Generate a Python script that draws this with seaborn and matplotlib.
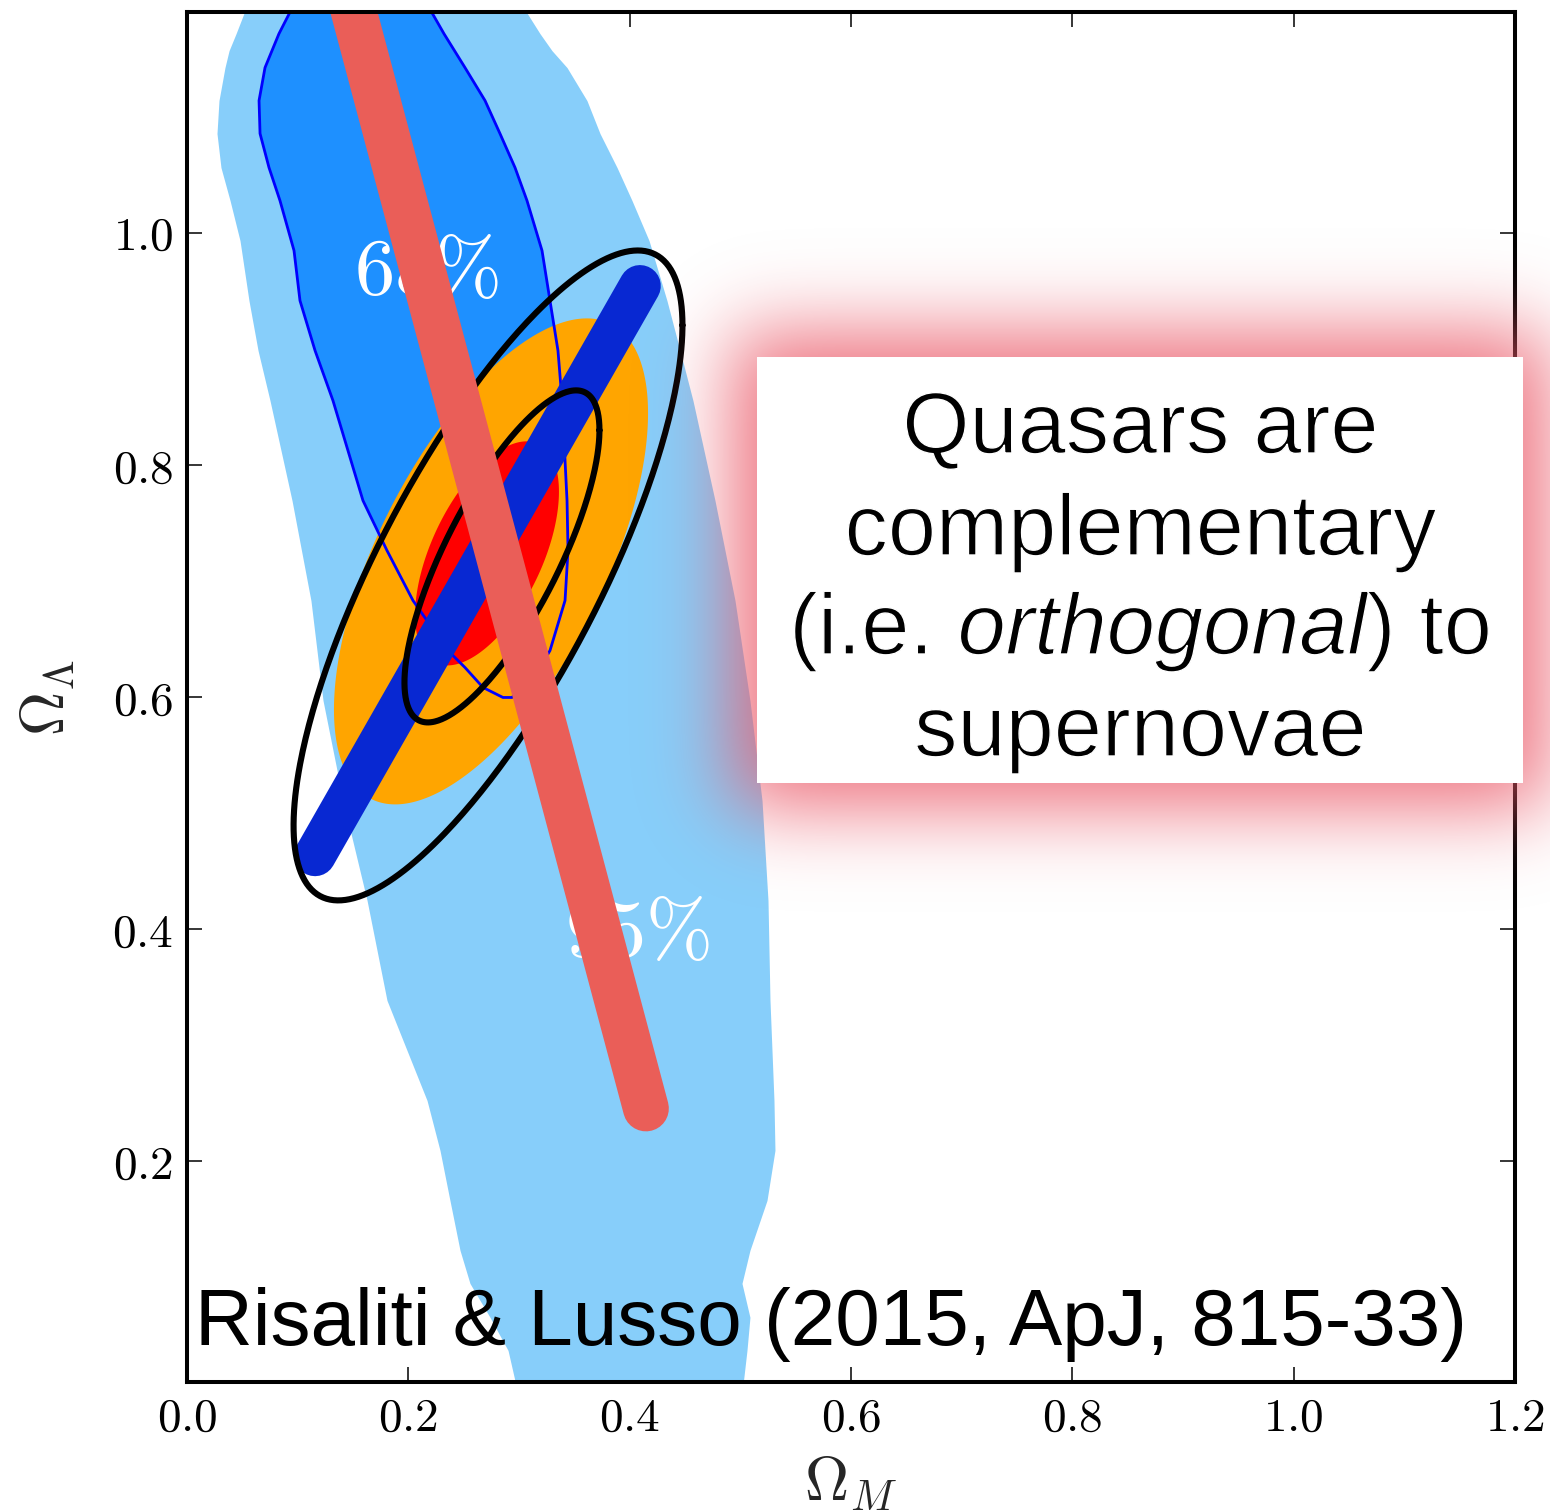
import numpy as np
import matplotlib
matplotlib.use("Agg")
import matplotlib.pyplot as plt
import matplotlib.patheffects as pe
import seaborn as sns
from matplotlib.patches import Rectangle
from matplotlib.ticker import FuncFormatter

# ---------------- data ----------------
# Quasar-only constraint, 95% region: Omega_Lambda levels and left/right Omega_M edges
qso95_ol = [1.200, 1.1713, 1.1567, 1.1421, 1.1137, 1.0853, 1.0560, 1.0276, 0.9931,
            0.9414, 0.8984, 0.8553, 0.7692, 0.6831, 0.5970, 0.5109, 0.4248, 0.3387,
            0.2956, 0.2525, 0.2095, 0.1664, 0.1234, 0.0949, 0.0657, 0.0372, 0.000]
qso95_left = [0.056, 0.0443, 0.0380, 0.0343, 0.0289, 0.0271, 0.0307, 0.0389, 0.0479,
              0.0560, 0.0642, 0.0750, 0.0949, 0.1120, 0.1229, 0.1410, 0.1627, 0.1807,
              0.1988, 0.2169, 0.2286, 0.2376, 0.2467, 0.2557, 0.2738, 0.2901, 0.2990]
qso95_right = [0.300, 0.3190, 0.3298, 0.3434, 0.3614, 0.3732, 0.3886, 0.4021, 0.4175,
               0.4337, 0.4455, 0.4572, 0.4771, 0.4952, 0.5087, 0.5196, 0.5250, 0.5268,
               0.5286, 0.5304, 0.5313, 0.5241, 0.5087, 0.5015, 0.5087, 0.5060, 0.5015]

# Quasar-only constraint, 68% region
qso68_ol = [1.200, 1.1713, 1.1421, 1.1137, 1.0853, 1.0560, 1.0276, 0.9845, 0.9414,
            0.8984, 0.8553, 0.7692, 0.7262, 0.6831, 0.6400, 0.6254, 0.6082, 0.5996]
qso68_left = [0.0985, 0.0831, 0.0705, 0.0651, 0.0660, 0.0741, 0.0840, 0.0967, 0.1021,
              0.1157, 0.1319, 0.1590, 0.1807, 0.2042, 0.2358, 0.2512, 0.2675, 0.2855]
qso68_right = [0.2150, 0.2322, 0.2512, 0.2693, 0.2828, 0.2964, 0.3072, 0.3208, 0.3280,
               0.3352, 0.3389, 0.3434, 0.3443, 0.3416, 0.3280, 0.3190, 0.3027, 0.2937]

# Joint constraints (centre Om, centre OL, half-width in Om, half-height in OL, correlation)
joint95 = dict(c=(0.2747, 0.7168), w=0.1419, h=0.2093, rho=0.61)
joint68 = dict(c=(0.2711, 0.7237), w=0.0650, h=0.0965, rho=0.55)
black95 = dict(c=(0.2720, 0.7047), w=0.1757, h=0.2799, rho=0.77)
black68 = dict(c=(0.2846, 0.7211), w=0.0881, h=0.1430, rho=0.76)

# Narrow degeneracy bands (end points of the band axis)
bao_om = [0.1157, 0.4093]
bao_ol = [0.4636, 0.9541]
sn_om = [0.148, 0.4147]
sn_ol = [1.200, 0.2456]

x_ticks = [0.0, 0.2, 0.4, 0.6, 0.8, 1.0, 1.2]
y_ticks = [0.2, 0.4, 0.6, 0.8, 1.0]

box_lines = ["Quasars are", "complementary", None, "supernovae"]
box_line3 = [("(i.e.", "normal"), ("orthogonal", "italic"), (")", "normal"), ("to", "normal")]
citation = "Risaliti & Lusso (2015, ApJ, 815-33)"

C_LIGHT = "#87CEFA"
C_DARK = "#1E90FF"
C_EDGE = "#0000FF"
C_ORANGE = "#FFA500"
C_RED = "#FF0000"
C_SN = "#EA5E58"
C_BAO = "#0828D2"

assert len(qso95_ol) == len(qso95_left) == len(qso95_right)
assert len(qso68_ol) == len(qso68_left) == len(qso68_right)

# ---------------- style ----------------
sns.set_style("ticks")
plt.rcParams["mathtext.fontset"] = "cm"
plt.rcParams["font.family"] = ["DejaVu Sans"]

W_PX, H_PX = 1550, 1512
fig = plt.figure(figsize=(W_PX / 100, H_PX / 100), dpi=100)
fig.patch.set_facecolor("white")
ax = fig.add_axes([187 / W_PX, (H_PX - 1382) / H_PX, 1328 / W_PX, 1370 / H_PX])
ax.set_facecolor("white")


def gauss_contour(c, w, h, rho, n=400):
    t = np.linspace(0, 2 * np.pi, n)
    x = c[0] + w * np.cos(t)
    y = c[1] + h * (rho * np.cos(t) + np.sqrt(1 - rho ** 2) * np.sin(t))
    return x, y


# quasar regions
ax.fill_betweenx(qso95_ol, qso95_left, qso95_right, color=C_LIGHT, lw=0, zorder=1)
ax.fill_betweenx(qso68_ol, qso68_left, qso68_right, color=C_DARK, lw=0, zorder=2)
outline_x = qso68_left + qso68_right[::-1]
outline_y = qso68_ol + qso68_ol[::-1]
sns.lineplot(x=outline_x, y=outline_y, sort=False, estimator=None, color=C_EDGE,
             lw=2.0, ax=ax, zorder=5)

ax.text(0.216, 0.966, r"$68\%$", color="white", fontsize=58, ha="center",
        va="center", zorder=2.5)
ax.text(0.407, 0.396, r"$95\%$", color="white", fontsize=58, ha="center",
        va="center", zorder=2.5)

# joint regions
for par, col, z in [(joint95, C_ORANGE, 3), (joint68, C_RED, 4)]:
    ex, ey = gauss_contour(**par)
    ax.fill(ex, ey, color=col, lw=0, zorder=z)

# BAO-like band
sns.lineplot(x=bao_om, y=bao_ol, sort=False, estimator=None, color=C_BAO, lw=30,
             solid_capstyle="round", ax=ax, zorder=6)

# black contours
for par in (black95, black68):
    ex, ey = gauss_contour(**par)
    sns.lineplot(x=ex, y=ey, sort=False, estimator=None, color="black", lw=4.4,
                 ax=ax, zorder=7)

# supernova band
sns.lineplot(x=sn_om, y=sn_ol, sort=False, estimator=None, color=C_SN, lw=33,
             solid_capstyle="round", ax=ax, zorder=8)

ax.set_xlim(0, 1.2)
ax.set_ylim(0.01, 1.19)
ax.set_xticks(x_ticks)
ax.set_yticks(y_ticks)
fmt = FuncFormatter(lambda v, p: f"${v:.1f}$")
ax.xaxis.set_major_formatter(fmt)
ax.yaxis.set_major_formatter(fmt)
ax.tick_params(direction="in", length=11, width=1.1, top=True, right=True,
               labelsize=34, pad=10, colors="black")
ax.minorticks_off()
for sp in ax.spines.values():
    sp.set_visible(True)
    sp.set_linewidth(2.9)
    sp.set_color("black")
    sp.set_zorder(9)
ax.set_xlabel(r"$\Omega_M$", fontsize=44, labelpad=10)
ax.set_ylabel(r"$\Omega_\Lambda$", fontsize=44, labelpad=25)

# ---------------- overlay: glow, box, texts (pixel coords) ----------------
ov = fig.add_axes([0, 0, 1, 1], zorder=20)
ov.patch.set_visible(False)
ov.axis("off")

bx0, bx1, by0, by1 = 757, 1523, 357, 783
grow, sig = 25.0, 40.0
yy, xx = np.mgrid[0:H_PX, 0:W_PX].astype(np.float32) + 0.5


def Phi(u):
    return 0.5 * (1 + np.tanh(0.7978845608 * (u + 0.044715 * u ** 3)))


gx = Phi((xx - (bx0 - grow)) / sig) - Phi((xx - (bx1 + grow)) / sig)
gy = Phi((yy - (by0 - grow)) / sig) - Phi((yy - (by1 + grow)) / sig)
rgba = np.zeros((H_PX, W_PX, 4), dtype=np.float32)
rgba[..., 0] = 235 / 255
rgba[..., 1] = 90 / 255
rgba[..., 2] = 105 / 255
rgba[..., 3] = np.clip(0.86 * gx * gy, 0, 1)
ov.imshow(rgba, extent=(0, W_PX, H_PX, 0), aspect="auto", interpolation="nearest",
          zorder=1)
ov.add_patch(Rectangle((bx0, by0), bx1 - bx0, by1 - by0, facecolor="white",
                       edgecolor="none", zorder=2))
ov.set_xlim(0, W_PX)
ov.set_ylim(H_PX, 0)

FONT = dict(family=["Liberation Sans", "DejaVu Sans"], weight="normal")
THIN = [pe.Normal(), pe.Stroke(linewidth=1.0, foreground="white")]
fig.canvas.draw()
rend = fig.canvas.get_renderer()


def width(t):
    return t.get_window_extent(renderer=rend).width


probe = ov.text(0, 0, "complementary", fontsize=62, **FONT)
box_fs = 62 * 592 / width(probe)
probe.remove()
probe = ov.text(0, 0, citation, fontsize=57, **FONT)
cit_fs = 57 * 1273 / width(probe)
probe.remove()

cx = 1140.5
baselines = [453, 555, 654, 756]
for s, yb in zip(box_lines, baselines):
    if s is not None:
        ov.text(cx, yb, s, ha="center", va="baseline", fontsize=box_fs, color="black",
                zorder=3, path_effects=THIN, **FONT)

# mixed upright / italic line
pa = ov.text(0, 0, "x x", fontsize=box_fs, **FONT)
pb = ov.text(0, 0, "xx", fontsize=box_fs, **FONT)
space_w = width(pa) - width(pb)
pa.remove()
pb.remove()
widths = []
for s, st in box_line3:
    t = ov.text(0, 0, s, fontsize=box_fs, style=st, **FONT)
    widths.append(width(t))
    t.remove()
gaps = [space_w, 0.0, space_w, 0.0]
total = sum(widths) + sum(gaps)
x = cx - total / 2
for (s, st), w, g in zip(box_line3, widths, gaps):
    ov.text(x, baselines[2], s, ha="left", va="baseline", fontsize=box_fs, style=st,
            color="black", zorder=3, path_effects=THIN, **FONT)
    x += w + g

ov.text(195, 1345, citation, ha="left", va="baseline", fontsize=cit_fs,
        color="black", zorder=3, **FONT)

fig.savefig("out.png", dpi=100, facecolor="white")
